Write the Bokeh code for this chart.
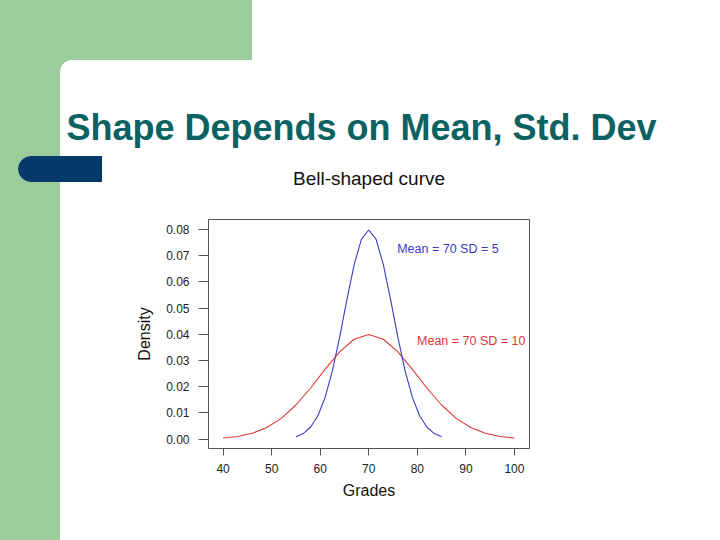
from bokeh.plotting import figure
from bokeh.models import Label, Range1d, FixedTicker, ColumnDataSource, Title, LinearAxis
from bokeh.embed import file_html
from bokeh.resources import INLINE

# ---- data ----
grades_sd10 = [40, 43, 46, 49, 52, 55, 58, 61, 64, 67, 70,
               73, 76, 79, 82, 85, 88, 91, 94, 97, 100]
density_sd10 = [0.0004, 0.0010, 0.0022, 0.0044, 0.0079, 0.0130, 0.0194, 0.0266, 0.0333, 0.0381, 0.0399,
                0.0381, 0.0333, 0.0266, 0.0194, 0.0130, 0.0079, 0.0044, 0.0022, 0.0010, 0.0004]

grades_sd5 = [55, 56.5, 58, 59.5, 61, 62.5, 64, 65.5, 67, 68.5, 70,
              71.5, 73, 74.5, 76, 77.5, 79, 80.5, 82, 83.5, 85]
density_sd5 = [0.0009, 0.0021, 0.0045, 0.0088, 0.0158, 0.0259, 0.0388, 0.0532, 0.0666, 0.0763, 0.0798,
               0.0763, 0.0666, 0.0532, 0.0388, 0.0259, 0.0158, 0.0088, 0.0045, 0.0021, 0.0009]

x_ticks = [40, 50, 60, 70, 80, 90, 100]
y_ticks = [0.00, 0.01, 0.02, 0.03, 0.04, 0.05, 0.06, 0.07, 0.08]
y_tick_labels = ["0.00", "0.01", "0.02", "0.03", "0.04", "0.05", "0.06", "0.07", "0.08"]

label_texts = ["Mean = 70 SD = 5", "Mean = 70 SD = 10"]
label_x = [86.3, 91.1]
label_y = [0.0725, 0.0375]

slide_title = "Shape Depends on Mean, Std. Dev"
plot_title = "Bell-shaped curve"

BLUE = "#3a3ac8"
RED = "#dd3838"
GREEN = "#9ccc9c"
NAVY = "#053a6b"
TEAL = "#0b6262"
FONT = "Liberation Sans"

p = figure(width=720, height=540,
           x_range=Range1d(37.0, 103.1), y_range=Range1d(-0.0036, 0.0838),
           output_backend="svg", toolbar_location=None,
           min_border_left=208, min_border_right=191,
           min_border_top=219, min_border_bottom=92)

p.background_fill_color = "white"
p.border_fill_color = None
p.outline_line_color = "#555555"
p.outline_line_width = 1
p.grid.grid_line_color = None

# ---- slide decoration (page background behind the transparent canvas) ----
def solid(c):
    return f"linear-gradient({c}, {c})"

layers = [
    (solid(NAVY), "31px 156px", "71px 26px"),
    (f"radial-gradient(circle at 31px 169px, {NAVY} 12.4px, rgba(0,0,0,0) 13.2px)", "0px 0px", "100% 100%"),
    ("radial-gradient(circle at 72px 72px, #ffffff 11.4px, rgba(255,255,255,0) 12.4px)", "0px 0px", "100% 100%"),
    (solid("#ffffff"), "72px 60px", "648px 480px"),
    (solid("#ffffff"), "60px 72px", "660px 468px"),
    (solid(GREEN), "0px 0px", "72px 540px"),
    (solid(GREEN), "0px 0px", "252px 72px"),
]
p.styles = {
    "background-color": "#ffffff",
    "background-image": ", ".join(l[0] for l in layers),
    "background-position": ", ".join(l[1] for l in layers),
    "background-size": ", ".join(l[2] for l in layers),
    "background-repeat": "no-repeat",
}

# ---- axes ----
xa = p.below[0]
ya = p.left[0]
xa.ticker = FixedTicker(ticks=x_ticks)
ya.ticker = FixedTicker(ticks=y_ticks)
ya.major_label_overrides = {t: s for t, s in zip(y_ticks, y_tick_labels)}
for ax in (xa, ya):
    ax.axis_line_color = None
    ax.major_tick_line_color = "#555555"
    ax.major_tick_in = 0
    ax.minor_tick_line_color = None
    ax.major_label_text_font = FONT
    ax.major_label_text_font_size = "12px"
    ax.major_label_text_color = "#222222"
    ax.axis_label_text_font = FONT
    ax.axis_label_text_font_size = "16px"
    ax.axis_label_text_font_style = "normal"
    ax.axis_label_text_color = "#111111"
xa.major_tick_out = 7
xa.major_label_standoff = 8
xa.axis_label = "Grades"
xa.axis_label_standoff = 6
ya.major_tick_out = 10
ya.major_label_standoff = 9
ya.axis_label = "Density"
ya.axis_label_standoff = 10

# ---- space between frame and plot title: a top axis with one invisible tick ----
spacer = LinearAxis(ticker=FixedTicker(ticks=[70]), major_label_overrides={70: ""},
                    major_tick_out=31, major_tick_in=0,
                    minor_tick_out=0, minor_tick_in=0, major_label_standoff=0,
                    major_label_text_font_size="0px",
                    axis_line_color=None, major_tick_line_color=None,
                    minor_tick_line_color=None)
p.add_layout(spacer, "above")

# ---- titles (first added sits next to the frame) ----
p.title.text = ""
p.add_layout(Title(text=plot_title, align="center", text_font=FONT, text_font_size="19px",
                   text_font_style="normal", text_color="#111111", standoff=0), "above")
p.add_layout(Title(text=slide_title, align="left", offset=-142, text_font=FONT,
                   text_font_size="36px", text_font_style="bold", text_color=TEAL,
                   standoff=36), "above")

# ---- curves ----
src10 = ColumnDataSource(dict(x=grades_sd10, y=density_sd10))
src5 = ColumnDataSource(dict(x=grades_sd5, y=density_sd5))
p.line("x", "y", source=src10, line_color=RED, line_width=1.1)
p.line("x", "y", source=src5, line_color=BLUE, line_width=1.1)

for txt, lx, ly, col in zip(label_texts, label_x, label_y, [BLUE, RED]):
    p.add_layout(Label(x=lx, y=ly, text=txt, text_font=FONT, text_font_size="12.5px",
                       text_color=col, text_align="center", text_baseline="middle"))

open("out.html", "w").write(file_html(p, INLINE))
